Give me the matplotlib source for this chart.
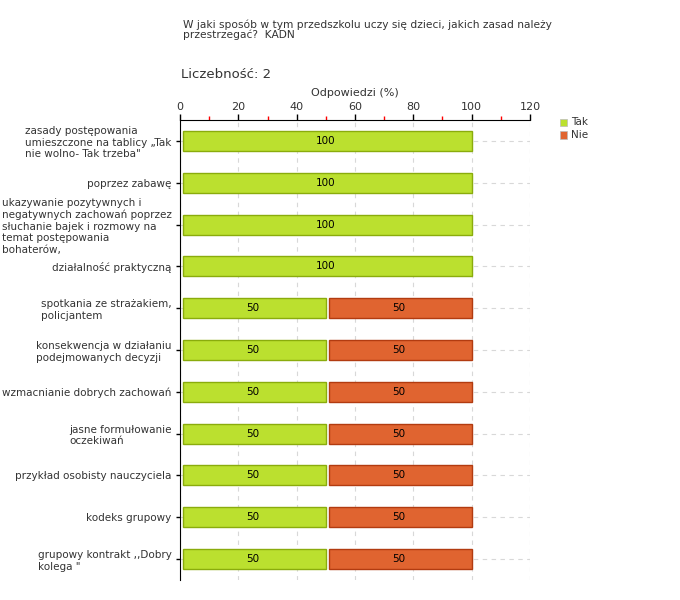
import matplotlib
matplotlib.use("Agg")
import matplotlib.pyplot as plt
from matplotlib.ticker import MultipleLocator
from matplotlib.patches import Rectangle
import numpy as np

categories = [
    "zasady postępowania\numieszczone na tablicy „Tak\nnie wolno- Tak trzeba\"",
    "poprzez zabawę",
    "ukazywanie pozytywnych i\nnegatywnych zachowań poprzez\nsłuchanie bajek i rozmowy na\ntemat postępowania\nbohaterów,",
    "działalność praktyczną",
    "spotkania ze strażakiem,\npolicjantem",
    "konsekwencja w działaniu\npodejmowanych decyzji",
    "wzmacnianie dobrych zachowań",
    "jasne formułowanie\noczekiwań",
    "przykład osobisty nauczyciela",
    "kodeks grupowy",
    "grupowy kontrakt ,,Dobry\nkolega \"",
]
tak = [100, 100, 100, 100, 50, 50, 50, 50, 50, 50, 50]
nie = [0, 0, 0, 0, 50, 50, 50, 50, 50, 50, 50]
series_names = ["Tak", "Nie"]
x_ticks = [0, 20, 40, 60, 80, 100, 120]

title = "W jaki sposób w tym przedszkolu uczy się dzieci, jakich zasad należy\nprzestrzegać?  KADN"
count_text = "Liczebność: 2"
axis_title = "Odpowiedzi (%)"

tak_face, tak_edge = "#bbe02f", "#8aac0c"
nie_face, nie_edge = "#e06430", "#b23b10"
txt = "#333333"

plt.rcParams['font.family'] = ['DejaVu Sans']
fig = plt.figure(figsize=(6.8, 6.0), dpi=100)
ax = fig.add_axes([180/680, 1-580/600, 350/680, 460/600])

y = np.arange(len(categories))
h = 0.48
gap = 2.0
tak_a = np.array(tak, dtype=float)
nie_a = np.array(nie, dtype=float)

m1 = tak_a > 0
ax.barh(y[m1], tak_a[m1] - gap / 2, left=gap / 2, height=h, color=tak_face,
        edgecolor=tak_edge, linewidth=1, zorder=3)
m2 = nie_a > 0
ax.barh(y[m2], nie_a[m2] - gap / 2, left=tak_a[m2] + gap / 2, height=h, color=nie_face,
        edgecolor=nie_edge, linewidth=1, zorder=3)

for i in range(len(categories)):
    if tak[i] > 0:
        ax.text(tak[i] / 2, y[i], str(tak[i]), ha="center", va="center", fontsize=7.5, color="black", zorder=4)
    if nie[i] > 0:
        ax.text(tak[i] + nie[i] / 2, y[i], str(nie[i]), ha="center", va="center", fontsize=7.5, color="black", zorder=4)

ax.set_xlim(0, 120)
ax.set_ylim(len(categories) - 0.5, -0.5)
ax.xaxis.set_ticks_position("top")
ax.xaxis.set_label_position("top")
ax.set_xticks(x_ticks)
ax.set_xticklabels([str(v) for v in x_ticks], fontsize=8, color=txt)
ax.xaxis.set_minor_locator(MultipleLocator(10))
ax.tick_params(axis="x", which="major", length=4, width=1, color="black", pad=2)
ax.tick_params(axis="x", which="minor", length=3, width=1, color="red")
ax.set_xlabel(axis_title, fontsize=8, color=txt, labelpad=4)

ax.set_yticks(y)
ax.set_yticklabels(categories, fontsize=7.5, color=txt, multialignment="left")
ax.tick_params(axis="y", length=3, width=1, color="black", pad=3)

for s in ["right", "bottom"]:
    ax.spines[s].set_visible(False)
ax.spines["top"].set_color("black")
ax.spines["left"].set_color("black")
ax.grid(True, which="major", linestyle=(0, (4, 4)), color="#d8d8d8", linewidth=0.8, zorder=0)
ax.set_axisbelow(True)

fig.text(183/680, 1-19/600, title, fontsize=7.7, color=txt, ha="left", va="top", linespacing=1.0)
fig.text(181/680, 1-75/600, count_text, fontsize=9.5, color=txt, ha="left", va="center")

for i, (name, fc) in enumerate(zip(series_names, [tak_face, nie_face])):
    yy = 1 - (122 + 13 * i) / 600
    fig.patches.append(Rectangle((560/680, yy - 3.5/600), 7/680, 7/600, transform=fig.transFigure,
                                 facecolor=fc, edgecolor="#bbbbbb", linewidth=0.5))
    fig.text(571/680, yy, name, fontsize=7.5, color=txt, ha="left", va="center")

fig.savefig("out.png", dpi=100)
